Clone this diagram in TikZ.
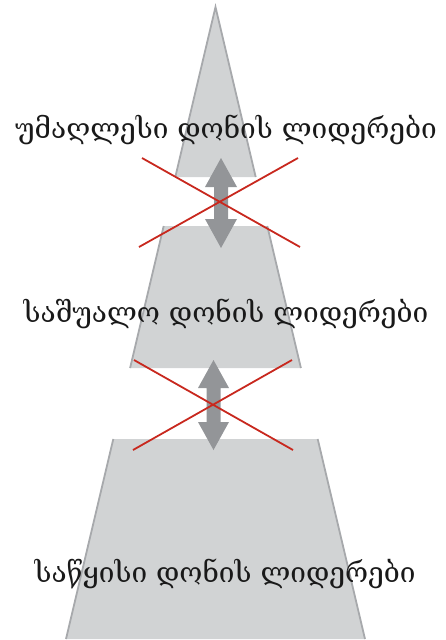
\documentclass[tikz,border=0pt]{standalone}
\usepackage{fontspec}
\newfontfamily\geofont{DejaVu Serif}
\definecolor{pyrfill}{HTML}{D1D3D4}
\definecolor{pyredge}{HTML}{A7A9AC}
\definecolor{arrgray}{HTML}{939598}
\definecolor{crossred}{HTML}{C8281E}
\begin{document}
\begin{tikzpicture}[x=1pt,y=-1pt,
  piece/.style={fill=pyrfill},
  side/.style={draw=pyredge,line width=1.8pt},
  dblarrow/.style={fill=arrgray},
  crossline/.style={draw=crossred,line width=1.8pt},
  label/.style={font=\geofont\fontsize{28}{33}\selectfont,text=black!90,anchor=base,inner sep=0pt}]
\useasboundingbox (0,0) rectangle (445,640);
% pyramid pieces
\coordinate (apex) at (215.5,7);
\coordinate (t1l) at (175.3,177); \coordinate (t1r) at (255.7,177);
\coordinate (m0l) at (163.7,226); \coordinate (m0r) at (267.3,226);
\coordinate (m1l) at (130.1,368); \coordinate (m1r) at (300.9,368);
\coordinate (b0l) at (113.3,439); \coordinate (b0r) at (317.7,439);
\coordinate (b1l) at (66,639); \coordinate (b1r) at (365,639);
\fill[piece] (apex) -- (t1r) -- (t1l) -- cycle;
\draw[side] (t1l) -- (apex) -- (t1r);
\fill[piece] (m0l) -- (m0r) -- (m1r) -- (m1l) -- cycle;
\draw[side] (m0l) -- (m1l) (m0r) -- (m1r);
\fill[piece] (b0l) -- (b0r) -- (b1r) -- (b1l) -- cycle;
\draw[side] (b0l) -- (b1l) (b0r) -- (b1r);
% arrows
\fill[dblarrow] (221,158) -- (237,187) -- (228,187) -- (228,219) -- (237,219) -- (221,248)
  -- (205,219) -- (214,219) -- (214,187) -- (205,187) -- cycle;
\fill[dblarrow] (213.5,360) -- (229,388) -- (220.5,388) -- (220.5,422) -- (229,422) -- (213.5,450)
  -- (198,422) -- (206.5,422) -- (206.5,388) -- (198,388) -- cycle;
% crosses
\coordinate (c1a) at (142,158); \coordinate (c1b) at (300,247);
\coordinate (c1c) at (298,158); \coordinate (c1d) at (139,247);
\draw[crossline] (c1a) -- (c1b) (c1c) -- (c1d);
\coordinate (c2a) at (134,360); \coordinate (c2b) at (293,450);
\coordinate (c2c) at (292,360); \coordinate (c2d) at (133,450);
\draw[crossline] (c2a) -- (c2b) (c2c) -- (c2d);
% labels
\node[label] (top) at (226,138) {უმაღლესი დონის ლიდერები};
\node[label] (mid) at (226,322) {საშუალო დონის ლიდერები};
\node[label] (bot) at (225,582) {საწყისი დონის ლიდერები};
\end{tikzpicture}
\end{document}
